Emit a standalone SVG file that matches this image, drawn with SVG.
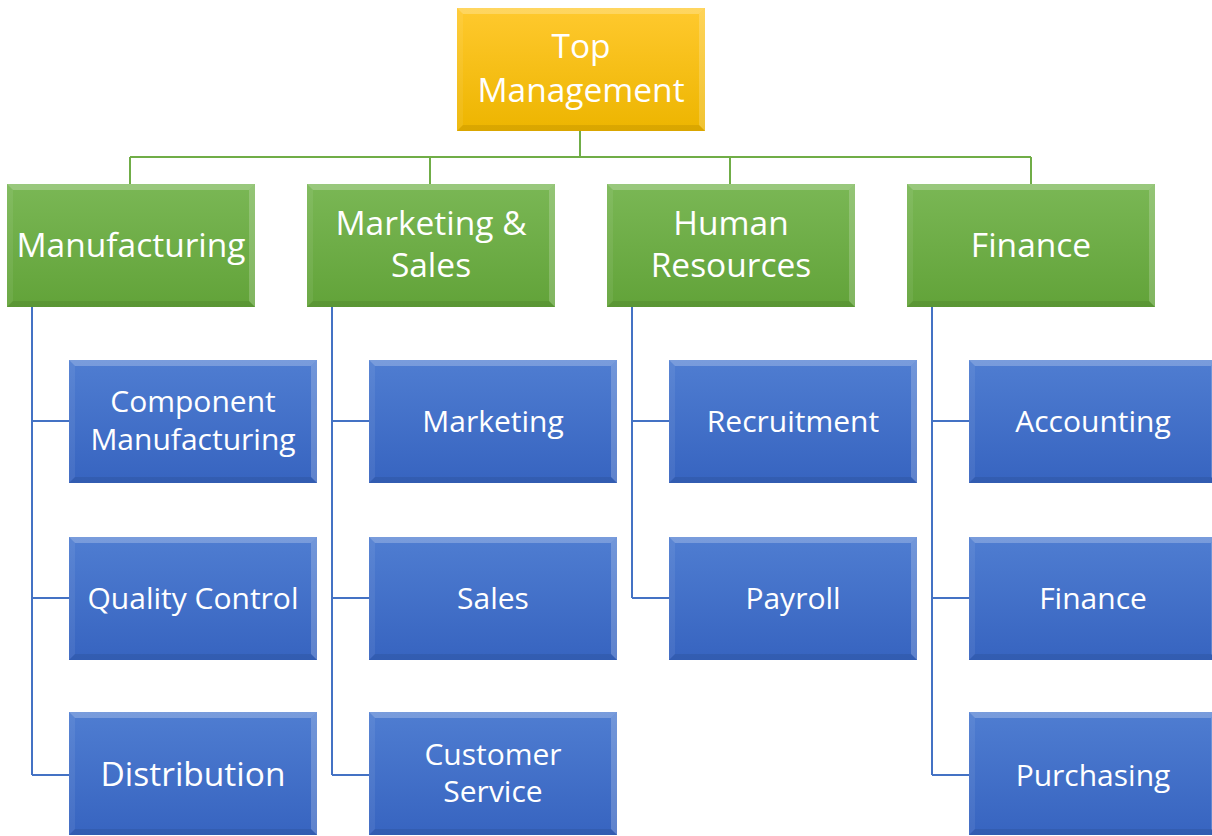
<svg xmlns="http://www.w3.org/2000/svg" xmlns:xlink="http://www.w3.org/1999/xlink" width="1212" height="836" viewBox="0 0 1212 836">
<defs>
<linearGradient id="gGold" x1="0" y1="0" x2="0" y2="1"><stop offset="0" stop-color="#FFC92E"/><stop offset="1" stop-color="#EDB500"/></linearGradient>
<linearGradient id="gGreen" x1="0" y1="0" x2="0" y2="1"><stop offset="0" stop-color="#7AB755"/><stop offset="1" stop-color="#62A339"/></linearGradient>
<linearGradient id="gBlue" x1="0" y1="0" x2="0" y2="1"><stop offset="0" stop-color="#4F7DD1"/><stop offset="1" stop-color="#3764C0"/></linearGradient>
<g id="bevel">
<polygon points="0,0 248,0 242,6 6,6" fill="#fff" fill-opacity="0.24"/>
<polygon points="0,0 6,6 6,117 0,123" fill="#fff" fill-opacity="0.07"/>
<polygon points="248,0 248,123 242,117 242,6" fill="#fff" fill-opacity="0.2"/>
<polygon points="0,123 6,117 242,117 248,123" fill="#000" fill-opacity="0.08"/>
</g>
</defs>
<style>
.gold{fill:url(#gGold)}
.green{fill:url(#gGreen)}
.blue{fill:url(#gBlue)}
.lg{fill:none;stroke:#70AD47;stroke-width:2}
.lb{fill:none;stroke:#4472C4;stroke-width:2}
text{font-family:"Open Sans","Liberation Sans",sans-serif;fill:#fff;text-anchor:middle}
.t1{font-size:33.5px}
.t2{font-size:30px}
</style>
<rect width="1212" height="836" fill="#fff"/>
<g id="connectors">
<path class="lg" d="M580 131V157M130 157H1031M130 157V184M430 157V184M730 157V184M1031 157V184"/>
<path class="lb" d="M32 307V775M32 421H69M32 598H69M32 775H69"/>
<path class="lb" d="M332 307V775M332 421H369M332 598H369M332 775H369"/>
<path class="lb" d="M632 307V598M632 421H669M632 598H669"/>
<path class="lb" d="M932 307V775M932 421H969M932 598H969M932 775H969"/>
</g>
<g id="top-management" transform="translate(457,8)">
<rect class="gold" width="248" height="123"/><use xlink:href="#bevel"/>
<text class="t1" x="124" y="50">Top</text><text class="t1" x="124" y="94">Management</text>
</g>
<g id="manufacturing" transform="translate(7,184)">
<rect class="green" width="248" height="123"/><use xlink:href="#bevel"/>
<text class="t1" x="124" y="73">Manufacturing</text>
</g>
<g id="marketing-sales" transform="translate(307,184)">
<rect class="green" width="248" height="123"/><use xlink:href="#bevel"/>
<text class="t1" x="124" y="51">Marketing &amp;</text><text class="t1" x="124" y="93">Sales</text>
</g>
<g id="human-resources" transform="translate(607,184)">
<rect class="green" width="248" height="123"/><use xlink:href="#bevel"/>
<text class="t1" x="124" y="51">Human</text><text class="t1" x="124" y="93">Resources</text>
</g>
<g id="finance-dept" transform="translate(907,184)">
<rect class="green" width="248" height="123"/><use xlink:href="#bevel"/>
<text class="t1" x="124" y="73">Finance</text>
</g>
<g id="component-manufacturing" transform="translate(69,360)">
<rect class="blue" width="248" height="123"/><use xlink:href="#bevel"/>
<text class="t2" x="124" y="52">Component</text><text class="t2" x="124" y="90">Manufacturing</text>
</g>
<g id="quality-control" transform="translate(69,537)">
<rect class="blue" width="248" height="123"/><use xlink:href="#bevel"/>
<text class="t2" x="124" y="72">Quality Control</text>
</g>
<g id="distribution" transform="translate(69,712)">
<rect class="blue" width="248" height="123"/><use xlink:href="#bevel"/>
<text class="t1" x="124" y="74">Distribution</text>
</g>
<g id="marketing" transform="translate(369,360)">
<rect class="blue" width="248" height="123"/><use xlink:href="#bevel"/>
<text class="t2" x="124" y="72">Marketing</text>
</g>
<g id="sales" transform="translate(369,537)">
<rect class="blue" width="248" height="123"/><use xlink:href="#bevel"/>
<text class="t2" x="124" y="72">Sales</text>
</g>
<g id="customer-service" transform="translate(369,712)">
<rect class="blue" width="248" height="123"/><use xlink:href="#bevel"/>
<text class="t2" x="124" y="53">Customer</text><text class="t2" x="124" y="90">Service</text>
</g>
<g id="recruitment" transform="translate(669,360)">
<rect class="blue" width="248" height="123"/><use xlink:href="#bevel"/>
<text class="t2" x="124" y="72">Recruitment</text>
</g>
<g id="payroll" transform="translate(669,537)">
<rect class="blue" width="248" height="123"/><use xlink:href="#bevel"/>
<text class="t2" x="124" y="72">Payroll</text>
</g>
<g id="accounting" transform="translate(969,360)">
<rect class="blue" width="248" height="123"/><use xlink:href="#bevel"/>
<text class="t2" x="124" y="72">Accounting</text>
</g>
<g id="finance" transform="translate(969,537)">
<rect class="blue" width="248" height="123"/><use xlink:href="#bevel"/>
<text class="t2" x="124" y="72">Finance</text>
</g>
<g id="purchasing" transform="translate(969,712)">
<rect class="blue" width="248" height="123"/><use xlink:href="#bevel"/>
<text class="t2" x="124" y="74">Purchasing</text>
</g>
</svg>
